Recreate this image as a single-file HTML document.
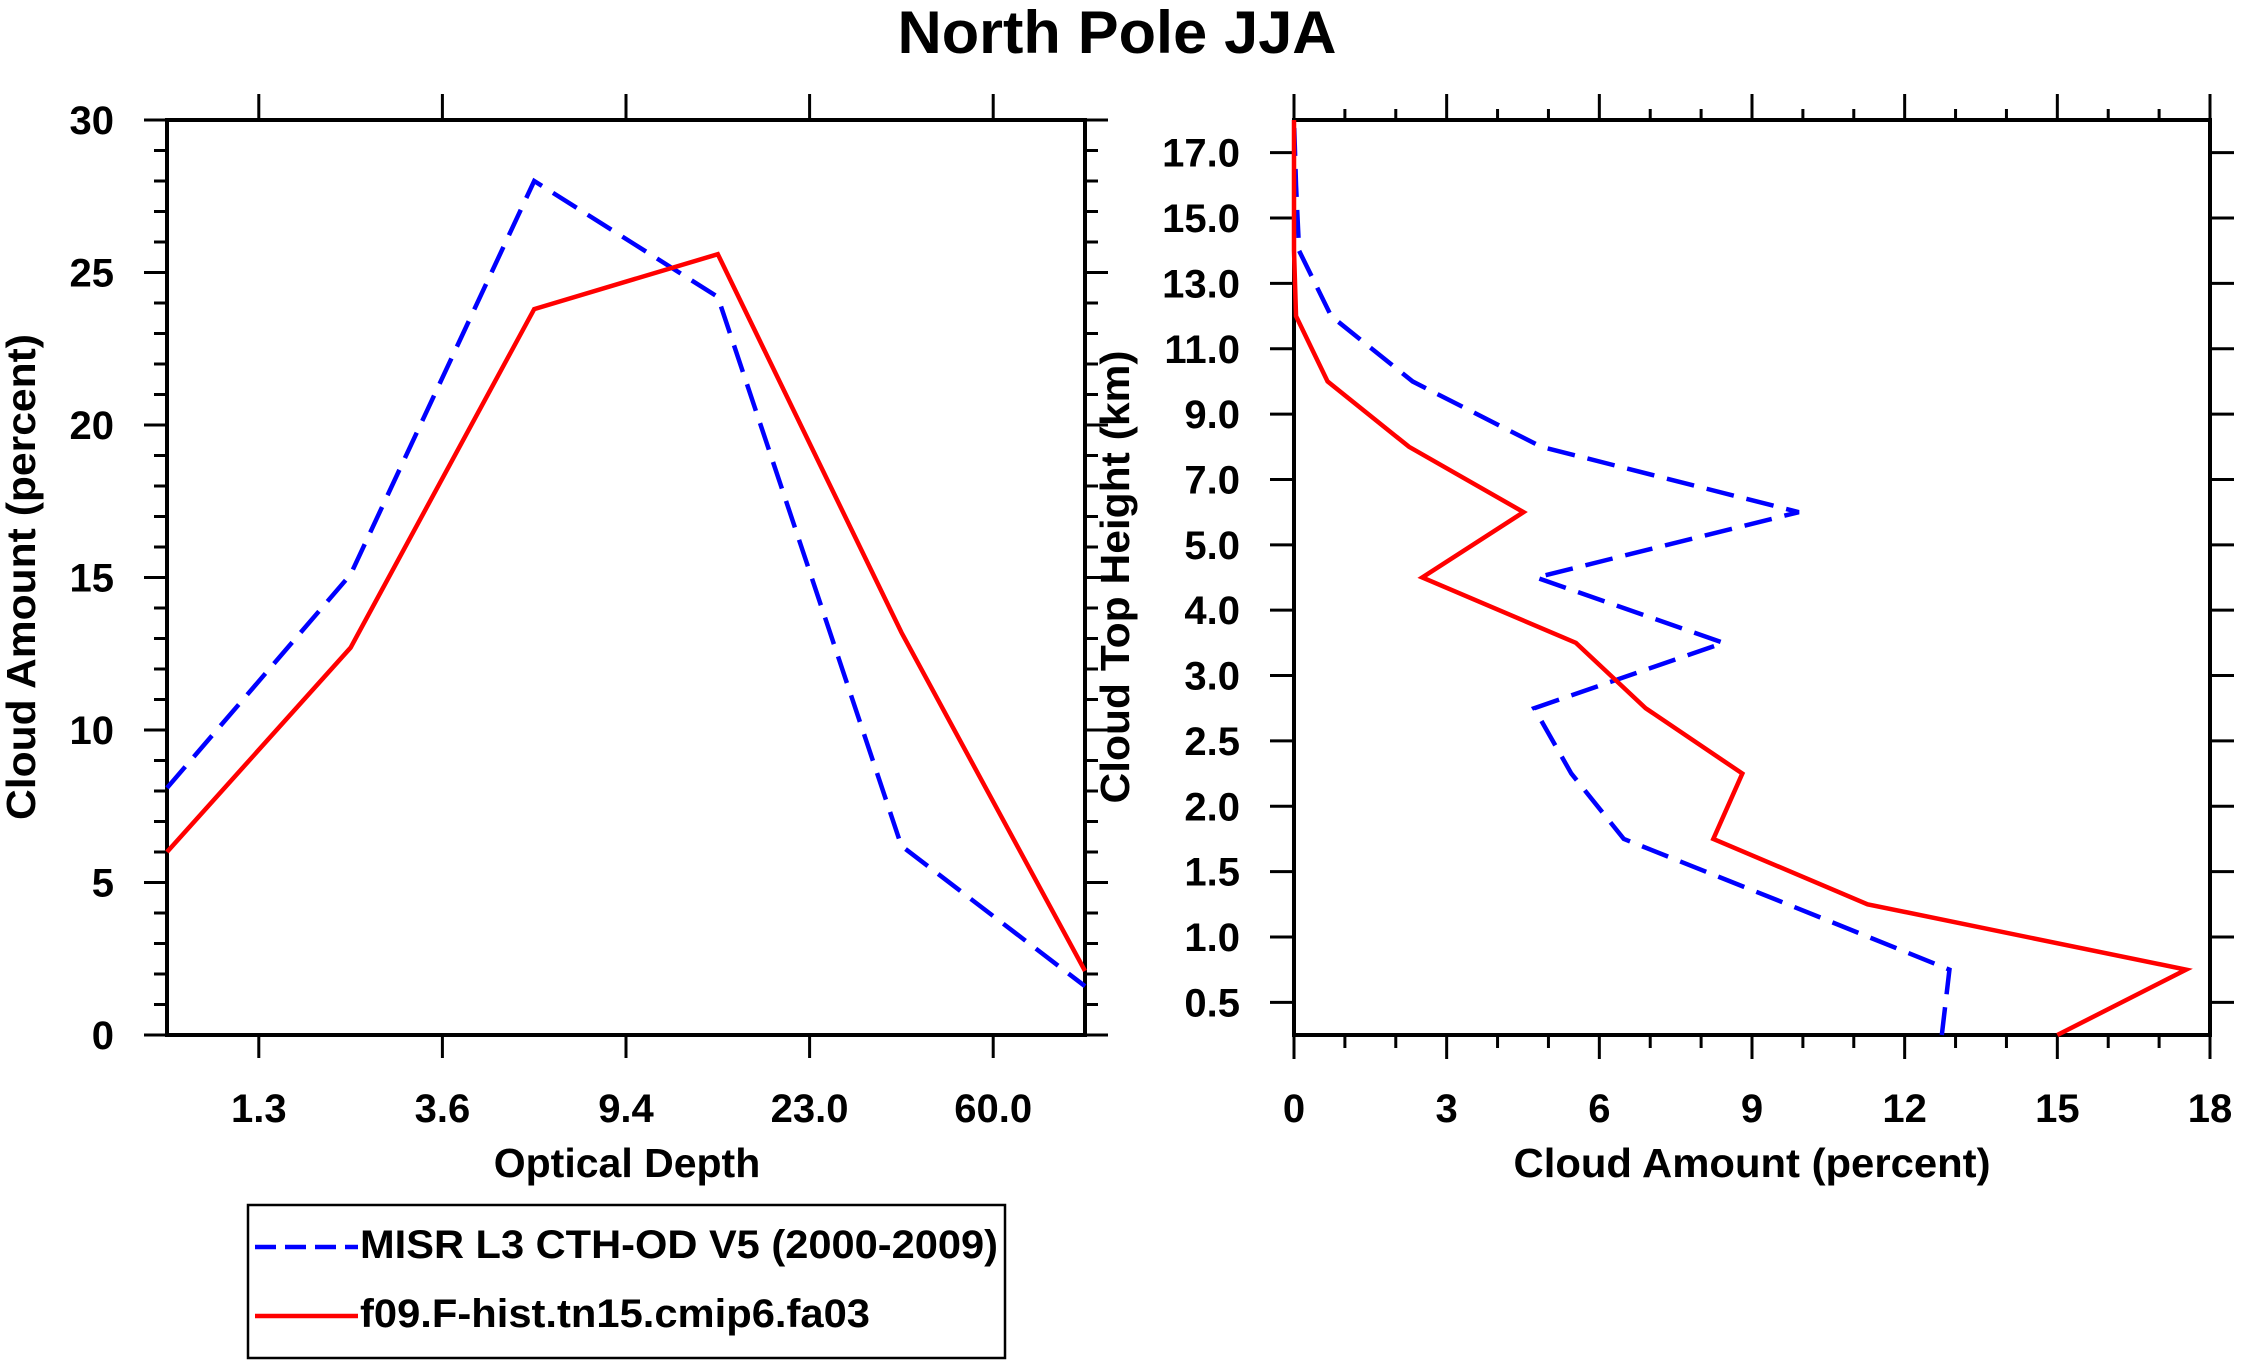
<!DOCTYPE html>
<html><head><meta charset="utf-8"><style>
html,body{margin:0;padding:0;background:#fff;}
svg{display:block;font-family:"Liberation Sans",Arial,sans-serif;font-weight:bold;}
</style></head><body>
<svg id="chart" width="2241" height="1365" viewBox="0 0 2241 1365" xmlns="http://www.w3.org/2000/svg">
<rect width="2241" height="1365" fill="#fff"/>
<text x="1117" y="53" font-size="60" text-anchor="middle" textLength="439" lengthAdjust="spacingAndGlyphs">North Pole JJA</text>
<g id="left"></g>
<g id="right"></g>
<g id="legend">
<rect x="248" y="1205" width="757" height="153" fill="none" stroke="#000" stroke-width="2.5"/>
<line x1="255" y1="1247" x2="358" y2="1247" stroke="#0000ff" stroke-width="4.5" stroke-dasharray="21,9"/>
<text x="360" y="1258" font-size="40" textLength="638" lengthAdjust="spacingAndGlyphs">MISR L3 CTH-OD V5 (2000-2009)</text>
<line x1="255" y1="1316" x2="358" y2="1316" stroke="#ff0000" stroke-width="4.5"/>
<text x="360" y="1327" font-size="40" textLength="510" lengthAdjust="spacingAndGlyphs">f09.F-hist.tn15.cmip6.fa03</text>
</g>
</svg>
<script>
// Left panel data
const odLabels = ["1.3","3.6","9.4","23.0","60.0"];
const odTicksY = [0,5,10,15,20,25,30];
const odMisr = [8.1,15.1,28.0,24.2,6.2,1.6];
const odModel = [6.0,12.7,23.8,25.6,13.2,2.1];
// Right panel data
const cthLabels = ["0.5","1.0","1.5","2.0","2.5","3.0","4.0","5.0","7.0","9.0","11.0","13.0","15.0","17.0"];
const caTicks = [0,3,6,9,12,15,18];
const cthMisr = [12.73,12.88,9.7,6.48,5.45,4.72,8.44,4.76,9.92,4.86,2.33,0.73,0.1,0.04,0.0];
const cthModel = [15.0,17.53,11.27,8.24,8.81,6.91,5.54,2.52,4.51,2.26,0.66,0.04,0,0,0];

const NS="http://www.w3.org/2000/svg";
function mk(parent,tag,attrs,text){const e=document.createElementNS(NS,tag);for(const k in attrs)e.setAttribute(k,attrs[k]);if(text!==undefined)e.textContent=text;parent.appendChild(e);return e;}

const T=120,B=1035;
const FS=40;
// ---- Left panel
const L=document.getElementById('left');
const lx0=167,lx1=1085;
const lxs=i=>lx0+i*(lx1-lx0)/5;
const lys=v=>B-v/30*(B-T);
for(let v=0;v<=30;v++){
  const len=(v%5===0)?23:13;
  let e=mk(L,'line',{x1:lx0-len,y1:lys(v),x2:lx0,y2:lys(v),stroke:'#000','stroke-width':3});
  
  
  e=mk(L,'line',{x1:lx1,y1:lys(v),x2:lx1+len,y2:lys(v),stroke:'#000','stroke-width':3});
  
  
}
odTicksY.forEach(v=>{
  const e=mk(L,'text',{x:114,y:lys(v)+14,'font-size':FS,'text-anchor':'end'},String(v));
  
  
});
odLabels.forEach((s,i)=>{
  const x=lxs(i+0.5);
  let e=mk(L,'line',{x1:x,y1:T-26,x2:x,y2:T,stroke:'#000','stroke-width':3});
  
  
  e=mk(L,'line',{x1:x,y1:B,x2:x,y2:B+23,stroke:'#000','stroke-width':3});
  
  
  e=mk(L,'text',{x:x,y:1122,'font-size':FS,'text-anchor':'middle'},s);
  
  
});
let lr=mk(L,'rect',{x:lx0,y:T,width:lx1-lx0,height:B-T,fill:'none',stroke:'#000','stroke-width':4});


let p=mk(L,'polyline',{points:odMisr.map((v,i)=>lxs(i)+','+lys(v)).join(' '),fill:'none',stroke:'#0000ff','stroke-width':4.5,'stroke-dasharray':'28,13'});


p=mk(L,'polyline',{points:odModel.map((v,i)=>lxs(i)+','+lys(v)).join(' '),fill:'none',stroke:'#ff0000','stroke-width':4.5});


let t=mk(L,'text',{x:627,y:1177,'font-size':41,'text-anchor':'middle'},'Optical Depth');


t=mk(L,'text',{x:0,y:0,'font-size':41,'text-anchor':'middle',transform:'translate(35,577) rotate(-90)',textLength:486,lengthAdjust:'spacingAndGlyphs'},'Cloud Amount (percent)');



// ---- Right panel
const R=document.getElementById('right');
const rx0=1294,rx1=2210;
const rxs=v=>rx0+v/18*(rx1-rx0);
const rys=i=>B-i*(B-T)/14;
for(let v=0;v<=18;v++){
  const maj=v%3===0;
  let e=mk(R,'line',{x1:rxs(v),y1:B,x2:rxs(v),y2:B+(maj?24:13),stroke:'#000','stroke-width':3});
  
  
  e=mk(R,'line',{x1:rxs(v),y1:T-(maj?26:11),x2:rxs(v),y2:T,stroke:'#000','stroke-width':3});
  
  
}
caTicks.forEach(v=>{
  const e=mk(R,'text',{x:rxs(v),y:1122,'font-size':FS,'text-anchor':'middle'},String(v));
  
  
});
cthLabels.forEach((s,i)=>{
  const y=rys(i+0.5);
  let e=mk(R,'line',{x1:rx0-24,y1:y,x2:rx0,y2:y,stroke:'#000','stroke-width':3});
  
  
  e=mk(R,'line',{x1:rx1,y1:y,x2:rx1+24,y2:y,stroke:'#000','stroke-width':3});
  
  
  e=mk(R,'text',{x:1240,y:y+14,'font-size':FS,'text-anchor':'end'},s);
  
  
});
let rr=mk(R,'rect',{x:rx0,y:T,width:rx1-rx0,height:B-T,fill:'none',stroke:'#000','stroke-width':4});


p=mk(R,'polyline',{points:cthMisr.map((v,i)=>rxs(v)+','+rys(i)).join(' '),fill:'none',stroke:'#0000ff','stroke-width':4.5,'stroke-dasharray':'28,13'});


p=mk(R,'polyline',{points:cthModel.map((v,i)=>rxs(v)+','+rys(i)).join(' '),fill:'none',stroke:'#ff0000','stroke-width':4.5});


t=mk(R,'text',{x:1752,y:1177,'font-size':41,'text-anchor':'middle',textLength:477,lengthAdjust:'spacingAndGlyphs'},'Cloud Amount (percent)');


t=mk(R,'text',{x:0,y:0,'font-size':41,'text-anchor':'middle',transform:'translate(1129,577) rotate(-90)',textLength:453,lengthAdjust:'spacingAndGlyphs'},'Cloud Top Height (km)');


</script>
</body></html>
